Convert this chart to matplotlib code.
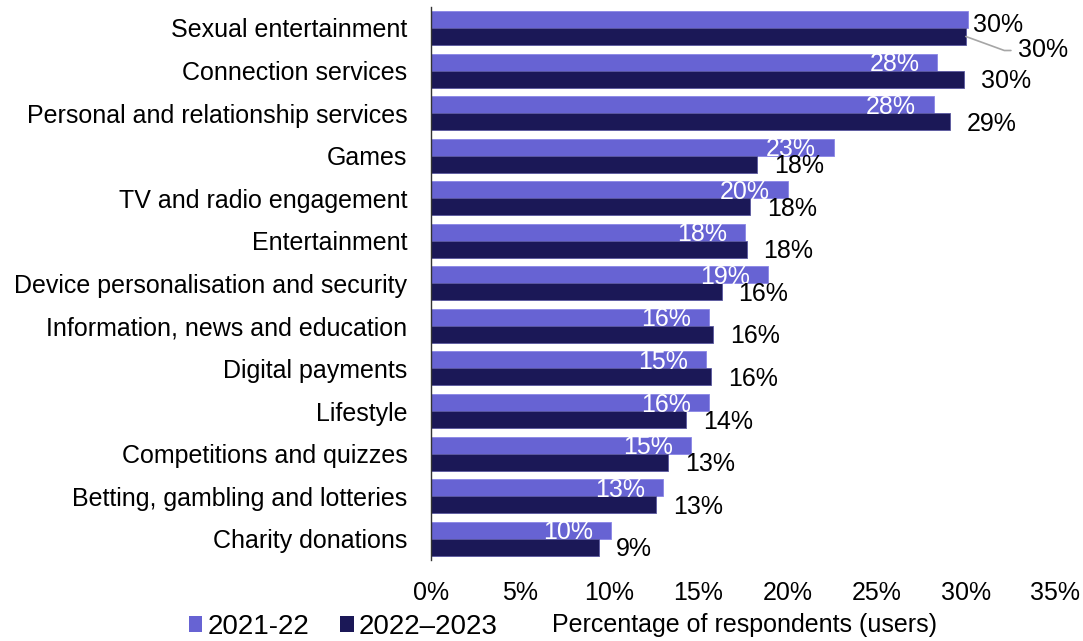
import numpy as np
import matplotlib
matplotlib.use("Agg")
import matplotlib.pyplot as plt
from matplotlib.patches import Patch

plt.rcParams['font.family'] = ['Liberation Sans', 'DejaVu Sans']

categories = [
    "Sexual entertainment",
    "Connection services",
    "Personal and relationship services",
    "Games",
    "TV and radio engagement",
    "Entertainment",
    "Device personalisation and security",
    "Information, news and education",
    "Digital payments",
    "Lifestyle",
    "Competitions and quizzes",
    "Betting, gambling and lotteries",
    "Charity donations",
]
y2122 = [30.1, 28.4, 28.2, 22.6, 20.0, 17.6, 18.9, 15.6, 15.4, 15.6, 14.6, 13.0, 10.1]
y2223 = [30.0, 29.9, 29.1, 18.3, 17.9, 17.7, 16.3, 15.8, 15.7, 14.3, 13.3, 12.6, 9.4]
series_names = ["2021-22", "2022\u20132023"]

light = "#6763d3"
dark = "#1b1857"
fs = 18

fig = plt.figure(figsize=(10.83, 6.41), dpi=100)
ax = fig.add_axes([431 / 1083, 1 - 560 / 641, 624 / 1083, (560 - 6.7) / 641])

pos = np.arange(len(categories))
h = 0.4
ax.barh(pos - h / 2, y2122, height=h, color=light, edgecolor="#8a86e6", linewidth=0.6)
ax.barh(pos + h / 2, y2223, height=h, color=dark, edgecolor="#5a58a0", linewidth=0.6)

ax.set_xlim(0, 35)
ax.set_ylim(len(categories) - 0.5, -0.5)
ax.set_yticks(pos)
ax.set_yticklabels(categories, fontsize=fs)
ax.set_xticks(np.arange(0, 36, 5))
ax.set_xticklabels([f"{t}%" for t in range(0, 36, 5)], fontsize=fs)
ax.tick_params(axis="y", length=0, pad=17)
ax.tick_params(axis="x", length=0, pad=15)
for s in ["top", "right", "bottom"]:
    ax.spines[s].set_visible(False)
ax.spines["left"].set_color("#333333")
ax.spines["left"].set_linewidth(1.0)

# value labels: 2021-22 inside the bar end in white, 2022-2023 outside in black
for i, (a, b) in enumerate(zip(y2122, y2223)):
    if i == 0:
        ax.annotate(f"{a:.0f}%", xy=(a, i - h / 2), xytext=(5, -6), textcoords="offset pixels",
                    ha="left", va="center", fontsize=fs, color="black")
        ax.annotate(f"{b:.0f}%", xy=(b, i + h / 2), xytext=(52, -14), textcoords="offset pixels",
                    ha="left", va="center", fontsize=fs, color="black",
                    arrowprops=dict(arrowstyle="-", color="#a6a6a6", lw=1.2,
                                    connectionstyle="angle,angleA=0,angleB=-20,rad=0",
                                    shrinkA=3, shrinkB=0))
        continue
    ax.annotate(f"{a:.0f}%", xy=(a, i - h / 2), xytext=(-18, -2), textcoords="offset pixels",
                ha="right", va="center", fontsize=fs, color="white")
    ax.annotate(f"{b:.0f}%", xy=(b, i + h / 2), xytext=(17, -2), textcoords="offset pixels",
                ha="left", va="center", fontsize=fs, color="black")

fig.text(745 / 1083, 1 - 625 / 641, "Percentage of respondents (users)", ha="center", va="center", fontsize=fs)

handles = [Patch(facecolor=light), Patch(facecolor=dark)]
fig.legend(handles, series_names, loc="center left", bbox_to_anchor=(189 / 1083, 1 - 627 / 641),
           ncol=2, frameon=False, fontsize=20, handlelength=0.48, handleheight=0.48,
           handletextpad=0.2, columnspacing=1.1, borderpad=0, borderaxespad=0)

fig.savefig("out.png", dpi=100)
